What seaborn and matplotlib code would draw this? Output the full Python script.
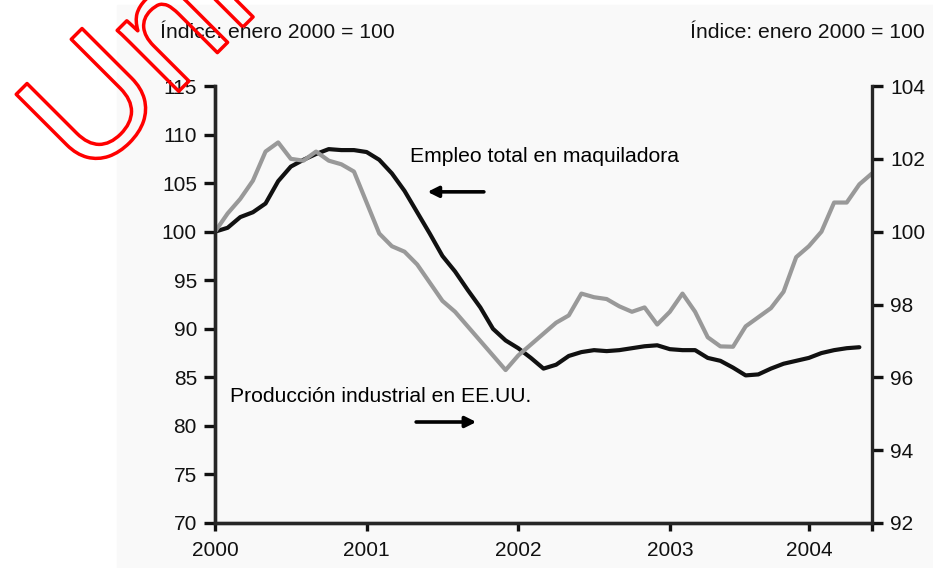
import numpy as np
import pandas as pd
import matplotlib
matplotlib.use('Agg')
import matplotlib.pyplot as plt
import matplotlib.patheffects as pe
from matplotlib.patches import Rectangle
import seaborn as sns

# Datos mensuales, enero 2000 = mes 0
empleo_maquiladora = [100.0, 100.4, 101.5, 102.0, 102.9, 105.2, 106.7, 107.4, 108.0, 108.5,
                      108.4, 108.4, 108.2, 107.4, 106.0, 104.2, 102.0, 99.8, 97.5, 95.9,
                      94.0, 92.2, 90.0, 88.8, 88.0, 87.0, 85.9, 86.3, 87.2, 87.6,
                      87.8, 87.7, 87.8, 88.0, 88.2, 88.3, 87.9, 87.8, 87.8, 87.0,
                      86.7, 86.0, 85.2, 85.3, 85.9, 86.4, 86.7, 87.0, 87.5, 87.8,
                      88.0, 88.1]
produccion_eeuu = [100.0, 100.5, 100.9, 101.4, 102.2, 102.45, 102.0, 101.95, 102.2, 101.95,
                   101.85, 101.65, 100.8, 99.95, 99.6, 99.45, 99.1, 98.6, 98.1, 97.8,
                   97.4, 97.0, 96.6, 96.2, 96.6, 96.9, 97.2, 97.5, 97.7, 98.3,
                   98.2, 98.15, 97.95, 97.8, 97.92, 97.45, 97.8, 98.3, 97.8, 97.1,
                   96.85, 96.84, 97.4, 97.65, 97.9, 98.35, 99.3, 99.6, 100.0, 100.8,
                   100.8, 101.3, 101.6]
anios = ['2000', '2001', '2002', '2003', '2004']
pos_anios = [0, 12, 24, 36, 47]
ticks_izq = np.arange(70, 116, 5)
ticks_der = np.arange(92, 105, 2)

df_emp = pd.DataFrame({'mes': np.arange(len(empleo_maquiladora)), 'valor': empleo_maquiladora})
df_prod = pd.DataFrame({'mes': np.arange(len(produccion_eeuu)), 'valor': produccion_eeuu})

sns.set_style('ticks')
plt.rcParams['font.family'] = ['Liberation Sans', 'DejaVu Sans']
plt.rcParams['axes.linewidth'] = 2.4

fig = plt.figure(figsize=(9.33, 5.68), dpi=100)
fig.patches.append(Rectangle((117 / 933, 0), 1, 1 - 5 / 568, transform=fig.transFigure,
                             color='#f9f9f9', zorder=-10))
ax = fig.add_axes([215 / 933, 1 - 523 / 568, (872 - 215) / 933, (523 - 86) / 568])
ax.set_facecolor('none')
ax2 = ax.twinx()

sns.lineplot(data=df_emp, x='mes', y='valor', ax=ax, color='#111111', linewidth=3.0)
sns.lineplot(data=df_prod, x='mes', y='valor', ax=ax2, color='#999999', linewidth=3.0)

ax.set_xlim(0, 52)
ax.set_ylim(70, 115)
ax2.set_ylim(92, 104)
ax.set_xticks(pos_anios)
ax.set_xticklabels(anios)
ax.set_xticks([52], minor=True)
ax.set_yticks(ticks_izq)
ax2.set_yticks(ticks_der)
for a in (ax, ax2):
    a.set_xlabel('')
    a.set_ylabel('')
    a.spines['top'].set_visible(False)
    for s in a.spines.values():
        s.set_linewidth(2.4)
ax.spines['right'].set_visible(False)
ax.tick_params(axis='y', length=8, width=2.4, pad=5, labelsize=15, colors='#111111')
ax.tick_params(axis='x', which='both', length=6, width=2.4, pad=7, labelsize=15, colors='#111111')
ax2.tick_params(axis='y', length=8, width=2.4, pad=5, labelsize=15, colors='#111111')

fig.text(160 / 933, 1 - 33 / 568, 'Índice: enero 2000 = 100', ha='left', va='center',
         fontsize=15.2, color='#111111')
fig.text(925 / 933, 1 - 33 / 568, 'Índice: enero 2000 = 100', ha='right', va='center',
         fontsize=15.2, color='#111111')

ax.text(15.4, 107.7, 'Empleo total en maquiladora', ha='left', va='center',
        fontsize=15.2, color='#000000')
ax.annotate('', xy=(16.6, 104.1), xytext=(21.5, 104.1),
            arrowprops=dict(arrowstyle='-|>', lw=2.6, color='black', mutation_scale=16))
ax.text(1.2, 83.0, 'Producción industrial en EE.UU.', ha='left', va='center',
        fontsize=15.2, color='#000000')
ax.annotate('', xy=(20.9, 80.4), xytext=(15.7, 80.4),
            arrowprops=dict(arrowstyle='-|>', lw=2.6, color='black', mutation_scale=16))

# marca de agua
fig.text(87 / 933, 1 - 183 / 568, 'Uni', rotation=45, rotation_mode='anchor',
         ha='left', va='baseline', fontsize=118, family='Liberation Sans', color='none',
         path_effects=[pe.Stroke(linewidth=2.5, foreground='red')], zorder=10)

fig.savefig('out.png', dpi=100)
